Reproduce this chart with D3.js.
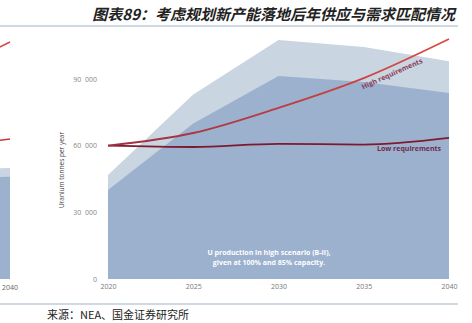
<!DOCTYPE html>
<html><head><meta charset="utf-8">
<script src="https://cdn.jsdelivr.net/npm/d3@7"></script>
<style>
html,body{margin:0;padding:0;background:#fff;}
svg{display:block;}
</style></head>
<body>
<svg id="c" width="472" height="323"></svg>
<script>
// ---- data ----
const years = [2020, 2025, 2030, 2035, 2040];
const supply100 = [46800, 83000, 107500, 104400, 98000];   // light area
const supply85  = [40000, 70000, 91300, 88600, 83700];     // dark area
const highReq   = [60000, 65700, 77000, 90400, 108000];
const lowReq    = [60000, 59400, 60800, 60500, 63500];
const yTicks = [0, 30000, 60000, 90000];
const yTickLabels = ["0", "30  000", "60  000", "90  000"];
// partial neighbouring chart (cut off at left edge)
const leftYears = [2035, 2040];
const leftSupply100 = [49000, 50000];
const leftSupply85 = [45000, 46000];
const leftHigh = [87750, 106650];
const leftLow = [58000, 63000];

const svg = d3.select("#c");
const x = d3.scaleLinear().domain([2020, 2040]).range([108, 449]);
const y = d3.scaleLinear().domain([0, 90000]).range([279, 79]);
const xL = d3.scaleLinear().domain([2020, 2040]).range([-331, 10]);

const defs = svg.append("defs");
const grad = defs.append("linearGradient").attr("id","hg").attr("gradientUnits","userSpaceOnUse")
  .attr("x1",108).attr("x2",449).attr("y1",0).attr("y2",0);
grad.append("stop").attr("offset","0%").attr("stop-color","#9a2f45");
grad.append("stop").attr("offset","100%").attr("stop-color","#dc4a40");

// title
svg.append("text").attr("x",455).attr("y",20).attr("text-anchor","end")
  .attr("font-family","Noto Sans CJK SC").attr("font-size",15).attr("font-weight","bold")
  .attr("font-style","italic").attr("fill","#222")
  .text("图表89：考虑规划新产能落地后年供应与需求匹配情况");
svg.append("line").attr("x1",0).attr("x2",458).attr("y1",26).attr("y2",26)
  .attr("stroke","#9fb3c8").attr("stroke-width",1);

// left partial chart
const leftG = svg.append("g");
const lArea = () => d3.area().x((d,i)=>xL(leftYears[i])).y0(y(0)).y1(d=>y(d));
leftG.append("path").datum(leftSupply100).attr("d", lArea()).attr("fill","#c9d5e0");
leftG.append("path").datum(leftSupply85).attr("d", lArea()).attr("fill","#9cb1ce");
const lLine = d3.line().x((d,i)=>xL(leftYears[i])).y(d=>y(d));
leftG.append("path").datum(leftHigh).attr("d", lLine).attr("fill","none").attr("stroke","#d9453e").attr("stroke-width",1.5);
leftG.append("path").datum(leftLow).attr("d", lLine).attr("fill","none").attr("stroke","#c8383a").attr("stroke-width",1.5);
svg.append("text").attr("x",xL(2040)).attr("y",290).attr("text-anchor","middle")
  .attr("font-family","Open Sans").attr("font-size",7).attr("fill","#666").text("2040");

// main chart
const area = d3.area().x((d,i)=>x(years[i])).y0(y(0)).y1(d=>y(d));
svg.append("path").datum(supply100).attr("d", area).attr("fill","#c9d5e0");
svg.append("path").datum(supply85).attr("d", area).attr("fill","#9cb1ce");

const line = d3.line().x((d,i)=>x(years[i])).y(d=>y(d)).curve(d3.curveMonotoneX);
svg.append("path").datum(lowReq).attr("d", line).attr("fill","none")
  .attr("stroke","#7d1a2e").attr("stroke-width",1.8);
svg.append("path").datum(highReq).attr("d", line).attr("fill","none")
  .attr("stroke","url(#hg)").attr("stroke-width",1.8);

// y axis
const yAxis = d3.axisLeft(y).tickValues(yTicks).tickSize(0).tickPadding(0)
  .tickFormat((d,i)=>yTickLabels[i]);
const yg = svg.append("g").attr("transform","translate(97,0)").call(yAxis);
yg.select(".domain").remove();
yg.selectAll("text").attr("font-family","Open Sans").attr("font-size",7).attr("fill","#888")
  .attr("xml:space","preserve").style("white-space","pre");

// x axis
const xAxis = d3.axisBottom(x).tickValues(years).tickSize(0).tickPadding(0).tickFormat(d3.format("d"));
const xg = svg.append("g").attr("transform","translate(0,284)").call(xAxis);
xg.select(".domain").remove();
xg.selectAll("text").attr("font-family","Open Sans").attr("font-size",7).attr("fill","#777");

// y label
svg.append("text").attr("transform","translate(64,170) rotate(-90)").attr("text-anchor","middle")
  .attr("font-family","Open Sans").attr("font-size",6.5).attr("fill","#444")
  .text("Uranium tonnes per year");

// annotations
const ann = svg.append("text").attr("font-family","Open Sans").attr("font-size",7)
  .attr("font-weight","bold").attr("fill","#fff").attr("text-anchor","middle");
ann.append("tspan").attr("x",269).attr("y",255).text("U production in high scenario (B-II),");
ann.append("tspan").attr("x",269).attr("y",265).text("given at 100% and 85% capacity.");

svg.append("text").attr("transform","translate(393,76) rotate(-24)").attr("text-anchor","middle")
  .attr("font-family","Open Sans").attr("font-size",7).attr("font-weight","bold").attr("fill","#8a3d5c")
  .text("High requirements");
svg.append("text").attr("x",409).attr("y",151).attr("text-anchor","middle")
  .attr("font-family","Open Sans").attr("font-size",7).attr("font-weight","bold").attr("fill","#6e2a4e")
  .text("Low requirements");

// bottom rule and source
svg.append("line").attr("x1",0).attr("x2",458).attr("y1",304).attr("y2",304)
  .attr("stroke","#9fb3c8").attr("stroke-width",1);
svg.append("text").attr("x",47).attr("y",319).attr("font-family","Noto Sans CJK SC")
  .attr("font-size",11).attr("fill","#222").text("来源：NEA、国金证券研究所");
</script>
</body></html>
